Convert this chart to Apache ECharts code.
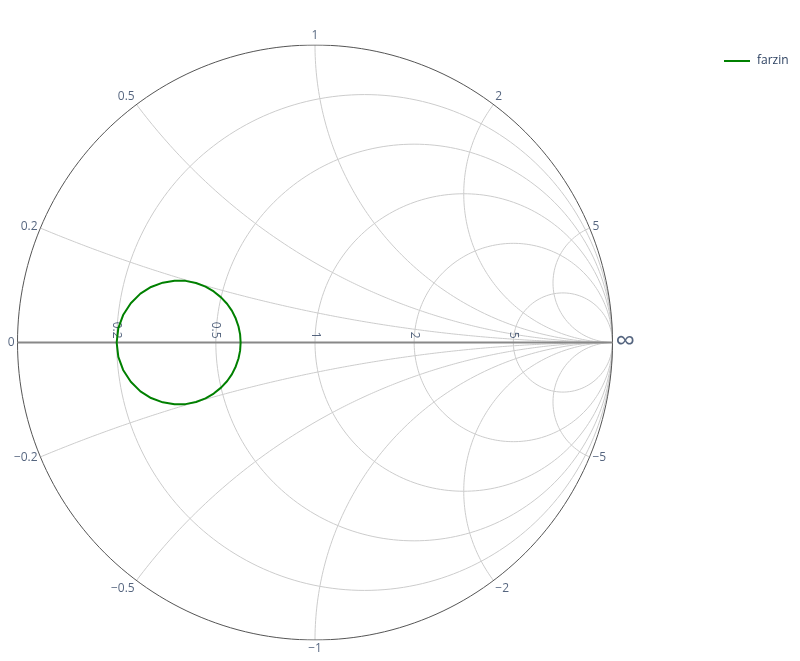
<!DOCTYPE html>
<html><head><meta charset="utf-8">
<script src="https://cdn.jsdelivr.net/npm/echarts@6/dist/echarts.min.js"></script>
<style>html,body{margin:0;padding:0;background:#fff}#c{width:800px;height:661px}</style>
</head><body><div id="c"></div>
<script>
// ---- data ----
const realTicks = [0.2, 0.5, 1, 2, 5];
const imagTicks = [0.2, 0.5, 1, 2, 5];
const seriesName = 'farzin';
const farzinReal = [0.6, 0.597, 0.588, 0.573, 0.553, 0.529, 0.5, 0.468, 0.435, 0.4, 0.365, 0.332, 0.3, 0.271, 0.247, 0.227, 0.212, 0.203, 0.2,
                    0.203, 0.212, 0.227, 0.247, 0.271, 0.3, 0.332, 0.365, 0.4, 0.435, 0.468, 0.5, 0.529, 0.553, 0.573, 0.588, 0.597, 0.6];
const farzinImag = [0, 0.035, 0.068, 0.1, 0.129, 0.153, 0.173, 0.188, 0.197, 0.2, 0.197, 0.188, 0.173, 0.153, 0.129, 0.1, 0.068, 0.035, 0,
                    -0.035, -0.068, -0.1, -0.129, -0.153, -0.173, -0.188, -0.197, -0.2, -0.197, -0.188, -0.173, -0.153, -0.129, -0.1, -0.068, -0.035, 0];

// ---- styles ----
const FONT = '"Open Sans", sans-serif';
const TXT = '#2a3f5f';
const GRID = '#cccccc';

function gamma(r, x) {
  const d = (r + 1) * (r + 1) + x * x;
  return [(r * r + x * x - 1) / d, 2 * x / d];
}
function fmt(v) { return v < 0 ? '\u2212' + String(-v) : String(v); }

const series = [];
const N = 240;
// constant-resistance circles
realTicks.forEach(r => {
  const cx = r / (1 + r), R = 1 / (1 + r), pts = [];
  for (let i = 0; i <= N; i++) { const a = 2 * Math.PI * i / N; pts.push([cx + R * Math.cos(a), R * Math.sin(a)]); }
  series.push({ type: 'line', data: pts, showSymbol: false, silent: true, lineStyle: { color: GRID, width: 1 }, z: 1 });
});
// constant-reactance arcs
imagTicks.forEach(x0 => {
  [1, -1].forEach(s => {
    const R = 1 / x0, a0 = -Math.PI / 2;
    const B = gamma(0, x0);
    let a1 = Math.atan2(B[1] - R, B[0] - 1);
    let sweep = ((a0 - a1) % (2 * Math.PI) + 2 * Math.PI) % (2 * Math.PI);
    const pts = [];
    for (let i = 0; i <= N; i++) {
      const a = a0 - sweep * i / N;
      pts.push([1 + R * Math.cos(a), s * (R + R * Math.sin(a))]);
    }
    series.push({ type: 'line', data: pts, showSymbol: false, silent: true, lineStyle: { color: GRID, width: 1 }, z: 1 });
  });
});
// outer circle
{
  const pts = [];
  for (let i = 0; i <= N; i++) { const a = 2 * Math.PI * i / N; pts.push([Math.cos(a), Math.sin(a)]); }
  series.push({ type: 'line', data: pts, showSymbol: false, silent: true, lineStyle: { color: '#555', width: 1 }, z: 2 });
}
// real axis
series.push({ type: 'line', data: [[-1, 0], [1, 0]], showSymbol: false, silent: true, lineStyle: { color: '#888', width: 2 }, z: 2 });

// real axis labels
series.push({
  type: 'scatter', silent: true, symbolSize: 0, z: 5,
  data: realTicks.map(r => ({ value: [(r - 1) / (r + 1), 0], name: fmt(r) })),
  label: { show: true, formatter: p => p.name, rotate: -90, align: 'right', verticalAlign: 'middle', offset: [-4, 0],
           color: TXT, fontFamily: FONT, fontSize: 12, position: 'inside' }
});
// imaginary axis labels
const imagAll = [0].concat(imagTicks, imagTicks.map(v => -v));
series.push({
  type: 'scatter', silent: true, symbolSize: 0, z: 5,
  data: imagAll.map(x => {
    const p = x === 0 ? [-1, 0] : gamma(0, x);
    const c = p[0], s = p[1];
    const align = c < -0.3 ? 'right' : (c > 0.3 ? 'left' : 'center');
    const va = s > 0.5 ? 'bottom' : (s < -0.5 ? 'top' : 'middle');
    return { value: p, name: fmt(x), label: { align: align, verticalAlign: va, offset: [3 * c, -3 * s] } };
  }),
  label: { show: true, formatter: p => p.name, position: 'inside', color: TXT, fontFamily: FONT, fontSize: 12 }
});
// infinity
series.push({
  type: 'scatter', silent: true, symbolSize: 0, z: 5,
  data: [{ value: [1, 0], name: '\u221e' }],
  label: { show: true, formatter: p => p.name, position: 'inside', align: 'left', verticalAlign: 'middle', offset: [3, 0],
           color: TXT, fontFamily: FONT, fontSize: 28 }
});
// data
series.push({
  name: seriesName, type: 'line', showSymbol: false, z: 10,
  data: farzinReal.map((r, i) => gamma(r, farzinImag[i])),
  lineStyle: { color: 'green', width: 2 }, itemStyle: { color: 'green' }
});

const chart = echarts.init(document.getElementById('c'), null, { renderer: 'canvas' });
chart.setOption({
  animation: false,
  backgroundColor: '#fff',
  grid: { left: 17.5, top: 45, width: 595, height: 595 },
  xAxis: { type: 'value', min: -1, max: 1, show: false },
  yAxis: { type: 'value', min: -1, max: 1, show: false },
  legend: {
    data: [{ name: seriesName, icon: 'rect' }], left: 724, top: 55, padding: 0, itemWidth: 26, itemHeight: 2, itemGap: 5,
    textStyle: { color: TXT, fontFamily: FONT, fontSize: 12, padding: [0, 0, 0, 2] }
  },
  series: series
});
</script></body></html>
